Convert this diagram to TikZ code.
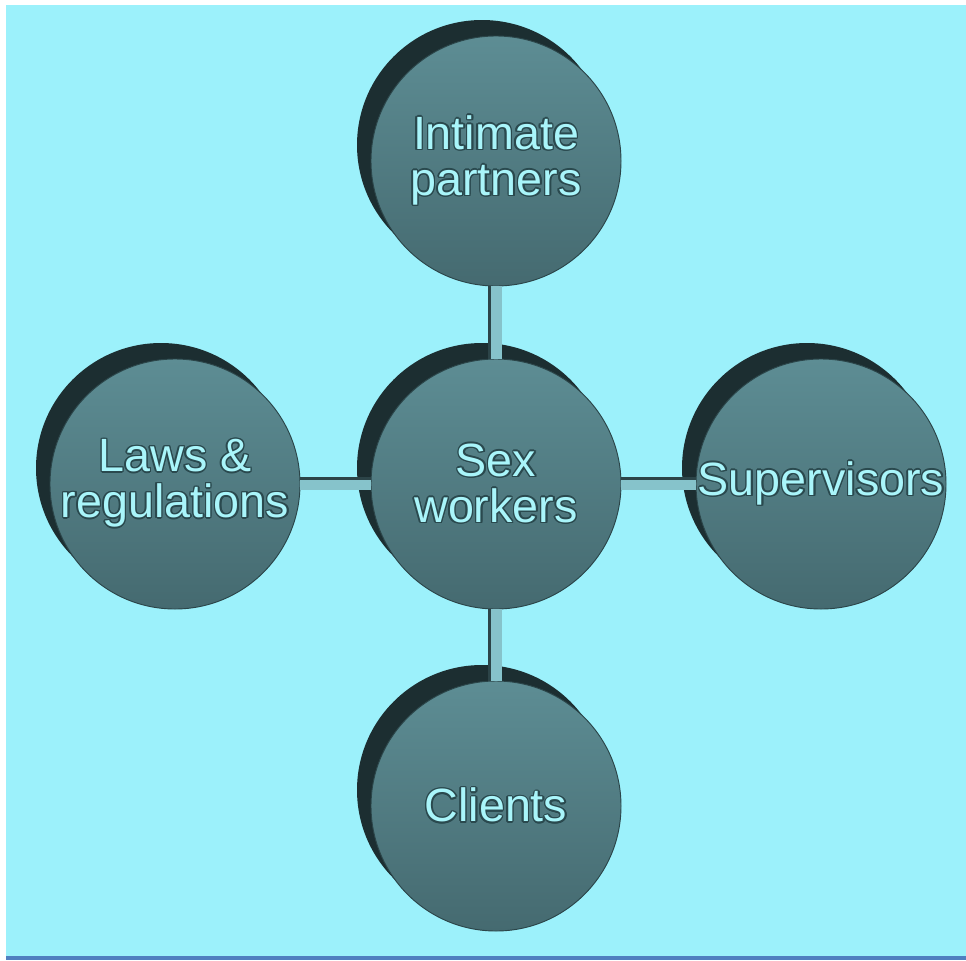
\documentclass[tikz,border=0pt]{standalone}
\usepackage{fontspec}
\setmainfont{Liberation Sans}
\usepackage[copies]{contour}
\contourlength{1.1pt}
\contournumber{12}

\definecolor{bgCyan}{HTML}{9CF1FB}
\definecolor{frameBlue}{HTML}{4F7FBF}
\definecolor{discTop}{HTML}{5D8D94}
\definecolor{discBottom}{HTML}{456A70}
\definecolor{discEdge}{HTML}{2B4549}
\definecolor{discShadow}{HTML}{1C2E31}
\definecolor{rodLight}{HTML}{86C3CB}
\definecolor{rodDark}{HTML}{2C4448}
\definecolor{textFill}{HTML}{A9F5FA}
\definecolor{textLine}{HTML}{2A494E}

\newcommand{\outlined}[1]{\contour{textLine}{#1}}

\tikzset{
  disc/.style={circle, minimum size=187.5pt, inner sep=0pt,
    top color=discTop, bottom color=discBottom, draw=discEdge, line width=0.7pt},
  disctext/.style={font=\fontsize{35}{34.5}\selectfont, text=textFill, align=center, inner sep=0pt},
  rod/.style={draw=rodLight, line width=9.5pt},
  rodedge/.style={draw=rodDark, line width=2.6pt}
}

\begin{document}
\begin{tikzpicture}[x=0.75pt,y=0.75pt,yscale=-1,xscale=1]
    \useasboundingbox (0,0) rectangle (966,960);
    %Shape: Rectangle [id:background] 
    \fill[white] (0,0) rectangle (966,960);
    \fill[bgCyan] (6,5) rectangle (966,956);
    \fill[frameBlue] (6,956) rectangle (966,960);

    %Shape: Circle [id:shadows] 
    \foreach \cx/\cy in {496/161, 496/484, 175/484, 821/484, 496/806}
      \fill[discShadow] (\cx-14,\cy-16) circle [radius=125];

    %Shape: Circle [id:discs] 
    \node[disc, label={[disctext]center:\outlined{Intimate}\\\outlined{partners}}] (partners) at (496,161) {};
    \node[disc, label={[disctext]center:\outlined{Sex}\\\outlined{workers}}] (workers) at (496,484) {};
    \node[disc, label={[disctext]center:\outlined{Laws \&}\\\outlined{regulations}}] (laws) at (175,484) {};
    \node[disc, label={[disctext]center:\outlined{Supervisors}}] (supervisors) at (821,484) {};
    \node[disc, label={[disctext]center:\outlined{Clients}}] (clients) at (496,806) {};

    %Straight Lines [id:rods] 
    \draw[rod] (partners) -- (workers);
    \draw[rodedge] ([xshift=-5pt]partners.south) -- ([xshift=-5pt]workers.north);
    \draw[rod] (workers) -- (clients);
    \draw[rodedge] ([xshift=-5pt]workers.south) -- ([xshift=-5pt]clients.north);
    \draw[rod] (laws) -- (workers);
    \draw[rodedge] ([yshift=-4pt]laws.east) -- ([yshift=-4pt]workers.west);
    \draw[rod] (workers) -- (supervisors);
    \draw[rodedge] ([yshift=-4pt]workers.east) -- ([yshift=-4pt]supervisors.west);
\end{tikzpicture}
\end{document}
